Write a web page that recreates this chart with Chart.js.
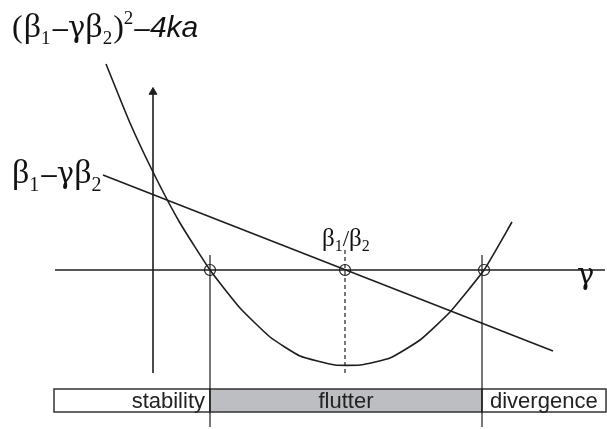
<!DOCTYPE html>
<html>
<head>
<meta charset="utf-8">
<script src="https://cdn.jsdelivr.net/npm/chart.js@4/dist/chart.umd.min.js"></script>
<style>
  body { margin: 0; background: #fff; }
  canvas { display: block; }
</style>
</head>
<body>
<canvas id="myChart" width="607" height="429"></canvas>
<script>
// gamma on x, value on y (0 = gamma axis)
const parabolaGamma = [-0.47, -0.23, 0.02, 0.27, 0.57, 0.87, 1.17, 1.47, 1.82, 2.07, 2.37, 2.67, 2.97, 3.31, 3.59];
const parabolaValue = [2.06, 1.47, 0.94, 0.47, 0, -0.38, -0.67, -0.86, -0.95, -0.95, -0.88, -0.70, -0.42, 0, 0.48];

const lineGamma = [-0.50, 4.00];
const lineValue = [0.95, -0.81];

// roots of the discriminant and beta1/beta2
const crossings = [0.57, 1.92, 3.31];

const regionNames = ["stability", "flutter", "divergence"];
const regionEdges = [-0.99, 0.57, 3.29, 4.53];

const lineColor = "#1e1e1e";

const toPoints = (xs, ys) => xs.map((x, i) => ({ x: x, y: ys[i] }));

const serif = (size) => `${size}px "Liberation Serif", "DejaVu Serif", serif`;
const greek = (size) => `${size}px "DejaVu Serif", serif`;
const sans = (size) => `${size}px "Liberation Sans", Arial, sans-serif`;

const drawRun = (ctx, x, y, parts) => {
  parts.forEach((p) => {
    ctx.font = p.font;
    ctx.fillText(p.t, x, y + (p.dy || 0));
    x += ctx.measureText(p.t).width + (p.gap || 0);
  });
};

const regionsPlugin = {
  id: "regions",
  beforeDatasetsDraw(chart) {
    const { ctx, scales } = chart;
    const top = scales.y.getPixelForValue(-1.19);
    const bottom = scales.y.getPixelForValue(-1.42);
    ctx.save();
    ctx.lineWidth = 1.5;
    ctx.strokeStyle = "#333";
    ctx.font = sans(22);
    ctx.textBaseline = "middle";
    regionNames.forEach((name, i) => {
      const left = scales.x.getPixelForValue(regionEdges[i]);
      const right = scales.x.getPixelForValue(regionEdges[i + 1]);
      ctx.fillStyle = name === "flutter" ? "#bdbec1" : "#fff";
      ctx.fillRect(left, top, right - left, bottom - top);
      ctx.strokeRect(left, top, right - left, bottom - top);
      ctx.fillStyle = "#222";
      const mid = (top + bottom) / 2 + 1;
      if (i === 0) {
        ctx.textAlign = "right";
        ctx.fillText(name, right - 5, mid);
      } else if (i === 1) {
        ctx.textAlign = "center";
        ctx.fillText(name, (left + right) / 2, mid);
      } else {
        ctx.textAlign = "left";
        ctx.fillText(name, left + 8, mid);
      }
    });
    ctx.restore();
  },
  afterDraw(chart) {
    const { ctx } = chart;
    ctx.save();
    ctx.fillStyle = "#111";
    ctx.textAlign = "left";
    ctx.textBaseline = "alphabetic";

    drawRun(ctx, 12, 37, [
      { t: "(", font: serif(32), gap: 1 },
      { t: "β", font: serif(34) },
      { t: "1", font: serif(19), dy: 7, gap: 2 },
      { t: "–", font: sans(28) },
      { t: "γ", font: greek(29) },
      { t: "β", font: serif(34) },
      { t: "2", font: serif(19), dy: 7, gap: 1 },
      { t: ")", font: serif(32) },
      { t: "2", font: serif(19), dy: -13, gap: 1 },
      { t: "–", font: sans(28) },
      { t: "4ka", font: "italic " + sans(30) },
    ]);

    drawRun(ctx, 12, 183, [
      { t: "β", font: serif(34) },
      { t: "1", font: serif(20), dy: 8, gap: 2 },
      { t: "–", font: sans(28) },
      { t: "γ", font: greek(29) },
      { t: "β", font: serif(34) },
      { t: "2", font: serif(20), dy: 8 },
    ]);

    drawRun(ctx, 322, 246, [
      { t: "β", font: serif(25) },
      { t: "1", font: serif(16), dy: 5 },
      { t: "/", font: serif(23) },
      { t: "β", font: serif(25) },
      { t: "2", font: serif(16), dy: 5 },
    ]);

    drawRun(ctx, 577, 284, [{ t: "γ", font: greek(29) }]);
    ctx.restore();
  },
};

const plainLine = (data, extra) =>
  Object.assign(
    {
      data: data,
      showLine: true,
      borderColor: lineColor,
      borderWidth: 1.6,
      pointRadius: 0,
      fill: false,
      clip: false,
    },
    extra || {}
  );

new Chart(document.getElementById("myChart"), {
  type: "scatter",
  data: {
    datasets: [
      // gamma axis
      plainLine(toPoints([-0.98, 4.52], [0, 0])),
      // value axis with arrow head
      plainLine(toPoints([0, 0], [-1.03, 1.78]), {
        pointRadius: [0, 4.5],
        pointStyle: "triangle",
        pointBackgroundColor: lineColor,
        pointBorderColor: lineColor,
        pointBorderWidth: 1,
      }),
      // region boundaries
      plainLine(toPoints([crossings[0], crossings[0]], [0.15, -1.57]), { borderWidth: 1.2 }),
      plainLine(toPoints([crossings[2] - 0.02, crossings[2] - 0.02], [0.15, -1.57]), { borderWidth: 1.2 }),
      plainLine(toPoints([crossings[1], crossings[1]], [0.2, -1.05]), {
        borderWidth: 1.2,
        borderDash: [4, 3],
      }),
      plainLine(toPoints(parabolaGamma, parabolaValue), { tension: 0.15 }),
      plainLine(toPoints(lineGamma, lineValue)),
      {
        data: toPoints(crossings, [0, 0, 0]),
        pointRadius: 5.5,
        pointStyle: "circle",
        pointBackgroundColor: "rgba(0,0,0,0)",
        pointBorderColor: lineColor,
        pointBorderWidth: 1.2,
        clip: false,
      },
    ],
  },
  options: {
    responsive: false,
    animation: false,
    events: [],
    layout: { padding: 0, autoPadding: false },
    plugins: { legend: { display: false }, tooltip: { enabled: false } },
    scales: {
      x: { type: "linear", min: -1.53, max: 4.54, display: false },
      y: { type: "linear", min: -1.59, max: 2.70, display: false },
    },
  },
  plugins: [regionsPlugin],
});
</script>
</body>
</html>
